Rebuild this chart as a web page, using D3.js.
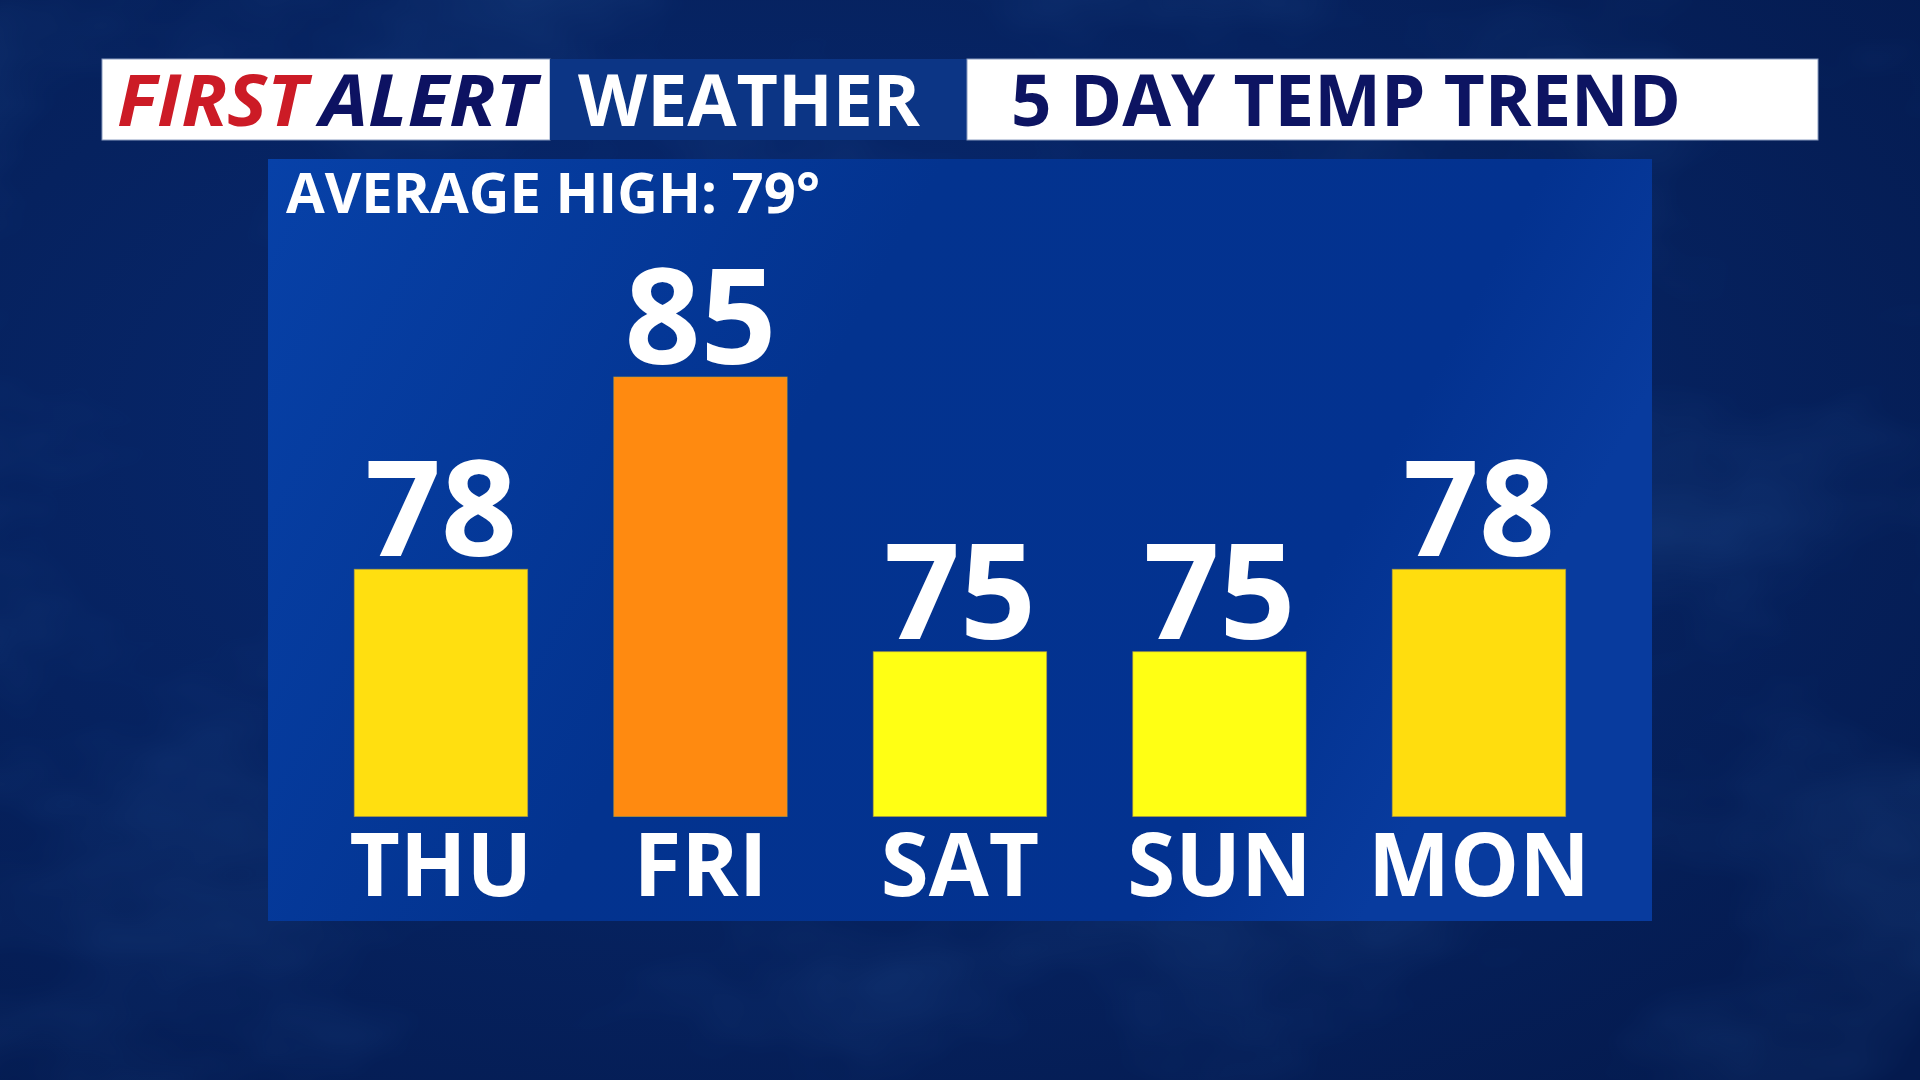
<!DOCTYPE html>
<html>
<head>
<meta charset="utf-8">
<script src="https://cdn.jsdelivr.net/npm/d3@7"></script>
<style>
  html, body { margin: 0; padding: 0; background: #06215e; overflow: hidden; }
  svg { display: block; }
  text { font-family: "Open Sans", "DejaVu Sans", sans-serif; font-weight: 700; }
</style>
</head>
<body>
<svg id="chart" width="1920" height="1080"></svg>
<script>
// ---- data ----
const days = ["THU", "FRI", "SAT", "SUN", "MON"];
const highs = [78, 85, 75, 75, 78];
const barColors = ["#FFDF10", "#FF8A10", "#FFFF14", "#FFFF14", "#FFDD0E"];
const avgHigh = 79;
const headerLeftA = "FIRST";
const headerLeftB = "ALERT";
const headerMid = "WEATHER";
const headerRight = "5 DAY TEMP TREND";

const svg = d3.select("#chart");
const W = 1920, H = 1080;
const defs = svg.append("defs");

// background gradients
const bgGrad = defs.append("radialGradient").attr("id", "bgGrad")
  .attr("cx", "40%").attr("cy", "40%").attr("r", "80%");
bgGrad.append("stop").attr("offset", "0%").attr("stop-color", "#082a74");
bgGrad.append("stop").attr("offset", "55%").attr("stop-color", "#06225f");
bgGrad.append("stop").attr("offset", "100%").attr("stop-color", "#041a4e");

const panelGrad = defs.append("linearGradient").attr("id", "panelGrad")
  .attr("x1", "0%").attr("y1", "0%").attr("x2", "100%").attr("y2", "30%");
panelGrad.append("stop").attr("offset", "0%").attr("stop-color", "#0741a8");
panelGrad.append("stop").attr("offset", "45%").attr("stop-color", "#03338f");
panelGrad.append("stop").attr("offset", "85%").attr("stop-color", "#033290");
panelGrad.append("stop").attr("offset", "100%").attr("stop-color", "#083b9e");

const tex = defs.append("filter").attr("id", "clouds")
  .attr("x", 0).attr("y", 0).attr("width", "100%").attr("height", "100%");
tex.append("feTurbulence").attr("type", "fractalNoise")
  .attr("baseFrequency", "0.003 0.005").attr("numOctaves", 4).attr("seed", 11);
tex.append("feColorMatrix").attr("type", "matrix")
  .attr("values", "0 0 0 0 0.04  0 0 0 0 0.17  0 0 0 0 0.5  0 0 0 1.2 -0.5");

svg.append("rect").attr("width", W).attr("height", H).attr("fill", "url(#bgGrad)");
svg.append("rect").attr("width", W).attr("height", H).attr("filter", "url(#clouds)").attr("opacity", 0.35);

// ---- header ----
const hy = 59, hh = 81;
svg.append("rect").attr("x", 102).attr("y", hy).attr("width", 448).attr("height", hh)
  .attr("fill", "#ffffff").attr("stroke", "#8a9cc0").attr("stroke-width", 1);
svg.append("rect").attr("x", 550).attr("y", hy).attr("width", 417).attr("height", hh)
  .attr("fill", "#0c3585");
svg.append("rect").attr("x", 967).attr("y", hy).attr("width", 851).attr("height", hh)
  .attr("fill", "#ffffff").attr("stroke", "#8a9cc0").attr("stroke-width", 1);

const hBase = 126, hSize = 71;
svg.append("text").attr("x", 117).attr("y", hBase).attr("font-size", hSize)
  .attr("font-style", "italic").attr("fill", "#cc1b26")
  .attr("textLength", 190).attr("lengthAdjust", "spacingAndGlyphs").text(headerLeftA);
svg.append("text").attr("x", 320).attr("y", hBase).attr("font-size", hSize)
  .attr("font-style", "italic").attr("fill", "#0d1262")
  .attr("textLength", 216).attr("lengthAdjust", "spacingAndGlyphs").text(headerLeftB);
svg.append("text").attr("x", 578).attr("y", hBase).attr("font-size", hSize)
  .attr("fill", "#ffffff")
  .attr("textLength", 342).attr("lengthAdjust", "spacingAndGlyphs").text(headerMid);
svg.append("text").attr("x", 1011).attr("y", hBase).attr("font-size", hSize)
  .attr("fill", "#0d1462")
  .attr("textLength", 670).attr("lengthAdjust", "spacingAndGlyphs").text(headerRight);

// ---- panel ----
svg.append("rect").attr("x", 268).attr("y", 159).attr("width", 1384).attr("height", 762)
  .attr("fill", "url(#panelGrad)");

svg.append("text").attr("x", 286).attr("y", 213).attr("font-size", 56)
  .attr("fill", "#ffffff")
  .attr("textLength", 534).attr("lengthAdjust", "spacingAndGlyphs")
  .text(`AVERAGE HIGH: ${avgHigh}°`);

// ---- bars ----
const x = d3.scaleBand().domain(days).range([311.2, 1608.7])
  .paddingInner(0.332).paddingOuter(0.166);
const y = d3.scaleLinear().domain([69, 85]).range([816.5, 377]);

const data = days.map((d, i) => ({ day: d, v: highs[i], c: barColors[i] }));

const g = svg.append("g");
g.selectAll("rect.bar").data(data).join("rect").attr("class", "bar")
  .attr("x", d => x(d.day)).attr("width", x.bandwidth())
  .attr("y", d => y(d.v)).attr("height", d => y(69) - y(d.v))
  .attr("fill", d => d.c)
  .attr("stroke", "#b9a23c").attr("stroke-opacity", 0.6).attr("stroke-width", 1);

g.selectAll("text.val").data(data).join("text").attr("class", "val")
  .attr("x", d => x(d.day) + x.bandwidth() / 2)
  .attr("y", d => y(d.v) - 13)
  .attr("text-anchor", "middle").attr("font-size", 133).attr("fill", "#ffffff")
  .text(d => d.v);

g.selectAll("text.day").data(data).join("text").attr("class", "day")
  .attr("x", d => x(d.day) + x.bandwidth() / 2)
  .attr("y", 895.5)
  .attr("text-anchor", "middle").attr("font-size", 87).attr("fill", "#ffffff")
  .text(d => d.day);
</script>
</body>
</html>
